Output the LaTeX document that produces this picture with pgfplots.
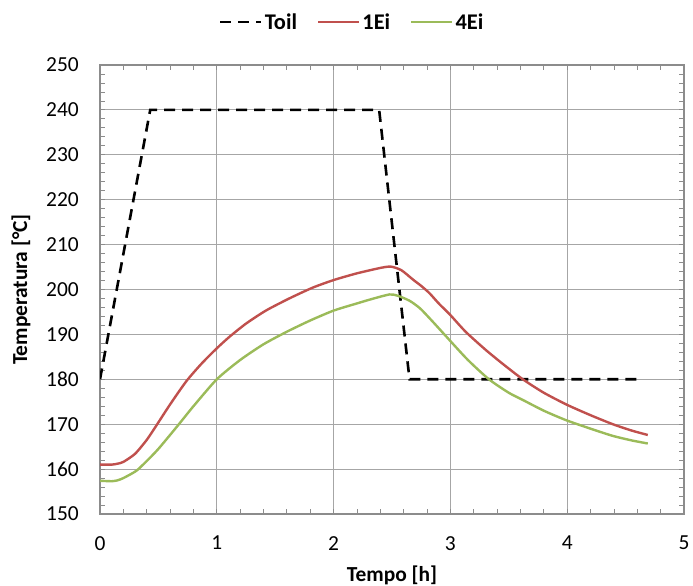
\documentclass[border=0pt]{standalone}
\usepackage{fontspec}
\setmainfont{Carlito}
\usepackage{pgfplots}
\pgfplotsset{compat=1.18}
\definecolor{exred}{HTML}{C0504D}
\definecolor{exgreen}{HTML}{9BBB59}
\definecolor{gridc}{HTML}{A6A6A6}
\definecolor{axc}{HTML}{8C8C8C}
\begin{document}
\begin{tikzpicture}
\useasboundingbox (0,0) rectangle (693bp,586bp);
\begin{axis}[
  at={(100bp,72bp)}, anchor=south west,
  scale only axis, width=584bp, height=449bp,
  xmin=0, xmax=5, ymin=150, ymax=250,
  xtick={0,1,2,3,4,5}, ytick={150,160,...,250},
  minor x tick num=4, minor y tick num=4,
  tick align=inside, major tick length=5bp, minor tick length=5bp,
  tick style={axc, line width=0.8bp},
  axis line style={axc, line width=1.5bp},
  grid=major, major grid style={gridc, line width=1bp},
  /pgf/number format/assume math mode=true,
  ticklabel style={font=\fontsize{21.5}{26}\selectfont, inner sep=0pt},
  yticklabel style={anchor=east, xshift=-21bp},
  xticklabel style={anchor=north, yshift=-22bp},
  xlabel={Tempo [h]}, ylabel={Temperatura [°C]},
  every axis x label/.style={at={(rel axis cs:0.5,0)}, yshift=-61bp, anchor=center, font=\fontsize{21.5}{26}\selectfont\bfseries},
  every axis y label/.style={at={(rel axis cs:0,0.5)}, xshift=-79bp, rotate=90, anchor=center, font=\fontsize{21.5}{26}\selectfont\bfseries},
  legend columns=3,
  legend style={at={(0.432,1.096)}, anchor=center, draw=none, fill=none,
    font=\fontsize{22.5}{27}\selectfont\bfseries, inner sep=0pt,
    nodes={inner sep=2bp},
    /tikz/every even column/.append style={column sep=18bp}},
  legend image code/.code={\draw[#1] (0bp,0bp) -- (41bp,0bp);},
]
\addplot[black, line width=2.6bp, dash pattern=on 11bp off 7bp] table {
x y
0 180
0.43 240
2.39 240
2.65 180
4.61 180
};
\addlegendentry{Toil}
\addplot[exred, line width=2.4bp, smooth, tension=0.4] table {
x y
0 161.0
0.1 161.0
0.15 161.2
0.2 161.6
0.3 163.4
0.4 166.5
0.48 169.6
0.6 174.4
0.74 179.6
0.87 183.5
1.0 186.9
1.11 189.5
1.25 192.4
1.42 195.3
1.62 198.0
1.82 200.4
2.0 202.1
2.2 203.6
2.4 204.8
2.49 205.1
2.58 204.3
2.68 202.2
2.75 200.8
2.82 199.2
2.9 196.9
3.0 194.3
3.13 190.6
3.3 186.6
3.45 183.4
3.62 180.0
3.8 177.0
4.0 174.3
4.2 172.0
4.39 170.0
4.55 168.6
4.69 167.6
};
\addlegendentry{1Ei}
\addplot[exgreen, line width=2.4bp, smooth, tension=0.4] table {
x y
0 157.4
0.1 157.3
0.15 157.5
0.2 158.0
0.31 159.6
0.4 161.8
0.5 164.5
0.66 169.5
0.8 174.0
1.0 180.0
1.2 184.3
1.4 187.8
1.6 190.6
1.8 193.1
2.0 195.3
2.2 196.9
2.33 197.9
2.48 198.9
2.55 198.6
2.65 197.5
2.74 195.8
2.85 192.8
2.99 188.8
3.15 184.3
3.33 180.0
3.5 177.0
3.62 175.4
3.8 173.0
3.99 170.9
4.2 169.0
4.39 167.4
4.55 166.4
4.69 165.7
};
\addlegendentry{4Ei}
\end{axis}
\end{tikzpicture}
\end{document}
